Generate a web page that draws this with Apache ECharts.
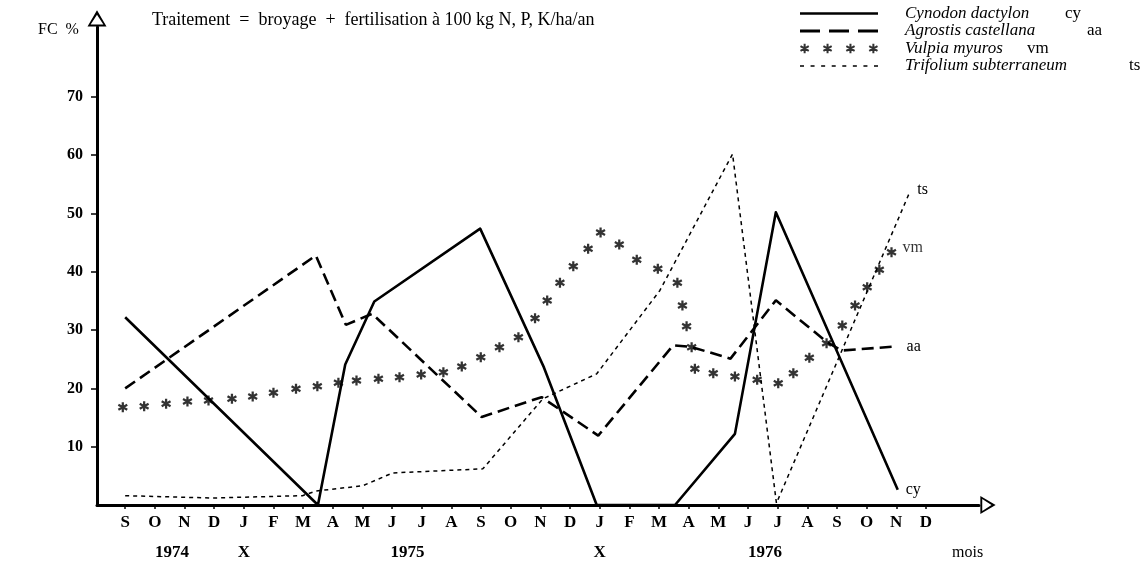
<!DOCTYPE html>
<html>
<head>
<meta charset="utf-8">
<script src="https://cdn.jsdelivr.net/npm/echarts@6/dist/echarts.min.js"></script>
<style>
html,body{margin:0;padding:0;background:#fff;}
#chart{width:1144px;height:563px;}
</style>
</head>
<body>
<div id="chart"></div>
<script>
// ---------- DATA ----------
const months = ['S','O','N','D','J','F','M','A','M','J','J','A','S','O','N','D','J','F','M','A','M','J','J','A','S','O','N','D'];
const yearLabels = ['1974','X','1975','X','1976'];
const yearPositions = [1.58, 4.0, 9.52, 16.0, 21.57];
const yTickValues = [10, 20, 30, 40, 50, 60, 70];

const seriesNames = ['Cynodon dactylon', 'Agrostis castellana', 'Vulpia myuros', 'Trifolium subterraneum'];
const seriesAbbr = ['cy', 'aa', 'vm', 'ts'];

// x = month index (0 = Sept 1974), y = FC %
const cyX = [0, 6.5, 7.42, 8.4, 11.97, 14.12, 15.9, 18.54, 20.56, 21.94, 26.05];
const cyY = [32.2, 0, 24.1, 34.9, 47.4, 23.6, 0, 0, 12.2, 50.2, 2.6];

const aaX = [0, 6.43, 7.44, 8.33, 12.02, 14.04, 15.95, 18.48, 19.1, 20.41, 21.94, 23.65, 24.16, 26.01];
const aaY = [20.0, 42.8, 30.9, 32.8, 15.1, 18.5, 11.9, 27.4, 27.1, 25.1, 35.1, 28.0, 26.5, 27.2];

const vmX = [-0.08,0.64,1.38,2.10,2.81,3.60,4.30,5.00,5.76,6.48,7.19,7.80,8.54,9.25,9.98,10.73,11.35,11.99,12.62,13.26,13.82,14.23,14.66,15.11,15.61,16.03,16.66,17.25,17.96,18.62,18.79,18.93,19.10,19.21,19.83,20.56,21.31,22.02,22.53,23.07,23.65,24.18,24.61,25.02,25.43,25.84];
const vmY = [16.78,16.95,17.36,17.75,17.92,18.22,18.61,19.25,19.93,20.38,20.96,21.36,21.65,21.92,22.38,22.78,23.76,25.35,27.07,28.78,32.04,35.08,38.11,40.96,43.95,46.74,44.68,42.06,40.51,38.11,34.22,30.67,27.07,23.36,22.61,22.04,21.47,20.89,22.61,25.25,27.75,30.79,34.22,37.36,40.34,43.36];

const tsX = [0, 2.95, 5.98, 6.44, 8.01, 9.02, 12.06, 14.08, 15.9, 18.03, 20.48, 21.96, 26.44];
const tsY = [1.6, 1.2, 1.6, 2.4, 3.3, 5.5, 6.2, 18.2, 22.5, 36.8, 60.2, 0.3, 53.5];

// ---------- STYLE HELPERS ----------
const FONT = "'Liberation Serif', 'DejaVu Serif', serif";
function asterisk(cx, cy, r, w) {
  let p = '';
  [0, 60, -60].forEach(function (deg) {
    const a = deg * Math.PI / 180, c = Math.cos(a), s = Math.sin(a);
    const pts = [[-w, -r], [w, -r], [w, r], [-w, r]].map(function (q) {
      return [cx + q[0] * c - q[1] * s, cy + q[0] * s + q[1] * c];
    });
    p += 'M' + pts.map(function (q) { return q[0].toFixed(2) + ' ' + q[1].toFixed(2); }).join(' L') + ' Z ';
  });
  return p;
}
function dashes(total, dash, count, thick) {
  const step = (total - dash) / (count - 1);
  let p = '';
  for (let k = 0; k < count; k++) {
    const x0 = k * step;
    p += 'M' + x0.toFixed(2) + ' 0 H' + (x0 + dash).toFixed(2) + ' V' + thick + ' H' + x0.toFixed(2) + ' Z ';
  }
  return 'path://' + p;
}
const asteriskSymbol = 'path://' + asterisk(10, 10, 10, 2.2);
const legendIcons = [
  'path://M0 0 H78 V2.6 H0 Z',
  dashes(78, 20, 3, 3),
  'path://' + [5, 29, 53, 77].map(function (c) { return asterisk(c, 5, 5, 1.05); }).join(' '),
  dashes(78, 4, 8, 1.4)
];
// open triangle arrow (pointing up), outer clockwise, inner counter-clockwise
const openArrow = 'path://M10 0 L20 17 L0 17 Z M10 4.6 L3.3 14.9 L16.7 14.9 Z';

const pairs = (xs, ys) => xs.map((x, i) => [x, ys[i]]);

const endLbl = (txt, off) => ({
  show: true, formatter: txt, color: '#000', fontFamily: FONT, fontSize: 16, distance: 8, offset: off || [0, 0]
});

const vmData = pairs(vmX, vmY).map((v, i, arr) => i === arr.length - 1 ? {
  value: v, label: { show: true, formatter: 'vm', position: 'right', distance: 6, offset: [0, -4], color: '#000', fontFamily: FONT, fontSize: 16 }
} : v);

// legend text: italic name block widths put the abbreviations where they sit in the figure
const legendNameWidths = [160, 182, 122, 224];
const legendRich = {};
legendNameWidths.forEach(function (w, i) {
  legendRich['i' + i] = { fontStyle: 'italic', fontFamily: FONT, fontSize: 17, width: w, padding: [0, 0, 0, 22], color: '#000', lineHeight: 16 };
});
legendRich.n = { fontFamily: FONT, fontSize: 17, color: '#000', lineHeight: 16 };

const chart = echarts.init(document.getElementById('chart'), null, { renderer: 'canvas' });
chart.setOption({
  animation: false,
  backgroundColor: '#fff',
  title: {
    text: 'Traitement  =  broyage  +  fertilisation à 100 kg N, P, K/ha/an',
    left: 147, top: 6,
    textStyle: { fontFamily: FONT, fontSize: 18, fontWeight: 'normal', color: '#000' }
  },
  legend: {
    orient: 'vertical', left: 795, top: 0,
    itemWidth: 78, itemHeight: 12, itemGap: 0.5,
    selectedMode: false,
    data: seriesNames.map(function (n, i) { return { name: n, icon: legendIcons[i] }; }),
    formatter: function (name) {
      const i = seriesNames.indexOf(name);
      return '{i' + i + '|' + name + '}{n|' + seriesAbbr[i] + '}';
    },
    textStyle: { color: '#000', fontFamily: FONT, fontSize: 17, lineHeight: 16, rich: legendRich }
  },
  graphic: [
    { type: 'text', left: 38, top: 22, style: { text: 'FC  %', font: '16px ' + FONT, fill: '#000' } },
    { type: 'text', left: 952, top: 545, style: { text: 'mois', font: '16px ' + FONT, fill: '#000' } }
  ],
  grid: { left: 97, right: 165, top: 26.94, bottom: 58, containLabel: false },
  xAxis: [
    {
      type: 'value', min: -0.95, max: 28.79,
      splitLine: { show: false },
      axisLine: {
        show: true, onZero: false,
        lineStyle: { color: '#000', width: 3 },
        symbol: ['none', openArrow], symbolSize: [18, 18], symbolOffset: [0, 9]
      },
      axisTick: { show: true, customValues: months.map((m, i) => i), length: 4, lineStyle: { color: '#000', width: 1.5 } },
      axisLabel: {
        customValues: months.map((m, i) => i),
        formatter: v => months[Math.round(v)] || '',
        margin: 9, color: '#000', fontFamily: FONT, fontSize: 17, fontWeight: 'bold'
      }
    },
    {
      type: 'value', min: -0.95, max: 28.79, position: 'bottom', offset: 30,
      splitLine: { show: false },
      axisLine: { show: false, onZero: false },
      axisTick: { show: false },
      axisLabel: {
        customValues: yearPositions,
        formatter: v => yearLabels[yearPositions.indexOf(v)] || '',
        margin: 9, color: '#000', fontFamily: FONT, fontSize: 17, fontWeight: 'bold'
      }
    }
  ],
  yAxis: {
    type: 'value', min: 0, max: 82,
    splitLine: { show: false },
    axisLine: {
      show: true, onZero: false,
      lineStyle: { color: '#000', width: 3 },
      symbol: ['none', openArrow], symbolSize: [19, 17], symbolOffset: [0, 8.5]
    },
    axisTick: { show: true, customValues: yTickValues, length: 6, lineStyle: { color: '#000', width: 1.5 } },
    axisLabel: {
      customValues: yTickValues, margin: 14,
      color: '#000', fontFamily: FONT, fontSize: 16, fontWeight: 'bold'
    }
  },
  series: [
    {
      name: seriesNames[0], type: 'line', xAxisIndex: 0, color: '#000',
      data: pairs(cyX, cyY), symbol: 'none',
      lineStyle: { color: '#000', width: 2.6, join: 'round' },
      endLabel: endLbl('cy', [0, 0]), z: 5
    },
    {
      name: seriesNames[1], type: 'line', xAxisIndex: 0, color: '#000',
      data: pairs(aaX, aaY), symbol: 'none',
      lineStyle: { color: '#000', width: 2.6, type: [12, 6] },
      endLabel: endLbl('aa', [2, 0]), z: 4
    },
    {
      name: seriesNames[2], type: 'scatter', xAxisIndex: 0, color: '#000',
      data: vmData, symbol: asteriskSymbol, symbolSize: 10,
      itemStyle: { color: '#000' }, z: 3
    },
    {
      name: seriesNames[3], type: 'line', xAxisIndex: 0, color: '#000',
      data: pairs(tsX, tsY), symbol: 'none',
      lineStyle: { color: '#000', width: 1.5, type: [4, 4] },
      endLabel: endLbl('ts', [0, -3]), z: 2
    }
  ]
});
</script>
</body>
</html>
